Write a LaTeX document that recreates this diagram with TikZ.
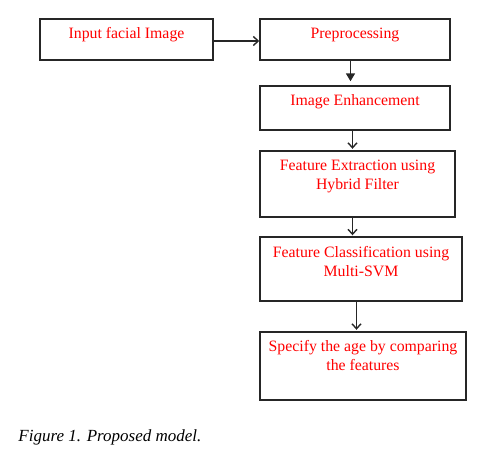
\documentclass[tikz,border=0pt]{standalone}
\usepackage{fontspec}
\setmainfont{Liberation Serif}
\usetikzlibrary{arrows.meta}
\begin{document}
\begin{tikzpicture}[x=1pt,y=-1pt,
  box/.style={draw=black!85, line width=1.4pt, rectangle, inner sep=0pt},
  lbl/.style={text=red, anchor=base, inner sep=0pt, align=center, font=\fontsize{15.8}{19}\selectfont},
  conn/.style={draw=black!85, line width=1.6pt},
  openhead/.style={-{Straight Barb[length=5pt,width=9pt,line width=1.4pt]}},
  fillhead/.style={-{Triangle[length=8pt,width=9pt]}}]
\useasboundingbox (0,0) rectangle (488,455);
\node[box, minimum width=173pt, minimum height=41pt] (b1) at (126.5,39.5) {};
\node[box, minimum width=190pt, minimum height=41pt] (b2) at (355,39.5) {};
\node[box, minimum width=190pt, minimum height=44pt] (b3) at (355,108) {};
\node[box, minimum width=195pt, minimum height=66pt] (b4) at (357.5,184) {};
\node[box, minimum width=202pt, minimum height=64pt] (b5) at (361,269) {};
\node[box, minimum width=206pt, minimum height=68pt] (b6) at (363,366) {};
\node[lbl] (t1) at ([yshift=-20pt]b1.north) {Input facial Image};
\node[lbl] (t2) at ([yshift=-20pt]b2.north) {Preprocessing};
\node[lbl] (t3) at ([yshift=-20.5pt]b3.north) {Image Enhancement};
\node[lbl] (t4) at ([yshift=-39.5pt]b4.north) {Feature Extraction using\\Hybrid Filter};
\node[lbl] (t5) at ([yshift=-40pt]b5.north) {Feature Classification using\\Multi-SVM};
\node[lbl] (t6) at ([yshift=-39pt]b6.north) {Specify the age by comparing\\the features};
\draw[conn, openhead] ([yshift=-1.5pt]b1.east) -- ([yshift=-1.5pt]b1.east -| b2.west);
\draw[conn, fillhead, shorten >=4pt] ([xshift=-4.5pt]b2.south) -- ([xshift=-4.5pt]b2.south |- b3.north);
\draw[conn, openhead, shorten >=1.5pt] ([xshift=-2.5pt]b3.south) -- ([xshift=-2.5pt]b3.south |- b4.north);
\draw[conn, openhead, shorten >=1pt] ([xshift=-5pt]b4.south) -- ([xshift=-5pt]b4.south |- b5.north);
\draw[conn, openhead, shorten >=1.5pt] ([xshift=-4.5pt]b5.south) -- ([xshift=-4.5pt]b5.south |- b6.north);
\node[anchor=base west, inner sep=0pt, font=\fontsize{17}{20}\selectfont\itshape] (cap) at (18.3,441) {Figure 1. Proposed model.};
\end{tikzpicture}
\end{document}
